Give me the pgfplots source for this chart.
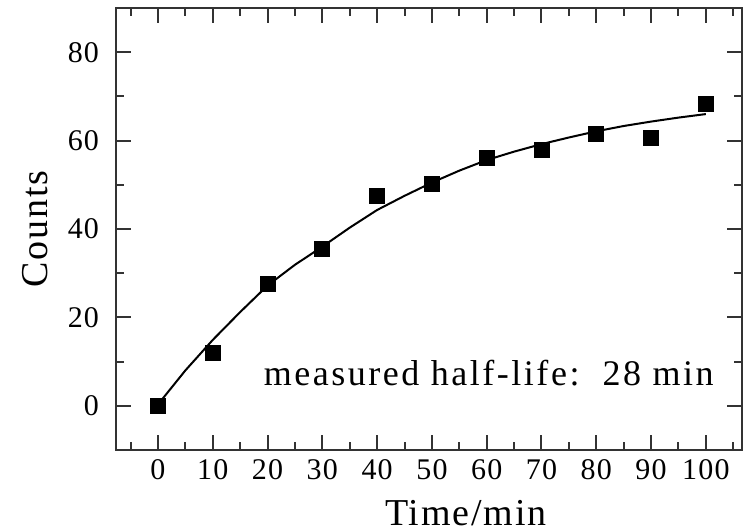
\documentclass[border=0pt]{standalone}
\usepackage{pgfplots}
\pgfplotsset{compat=1.18}
\usepackage{fontspec}
\setmainfont{Liberation Serif}

\begin{document}
\begin{tikzpicture}
\begin{axis}[
  scale only axis,
  width=313bp, height=221bp,
  xmin=-7.66, xmax=106.6,
  ymin=-10, ymax=90,
  axis line style={line width=1bp, black!80},
  xtick={0,10,...,100},
  ytick={0,20,...,80},
  minor xtick={-5,5,15,...,105},
  minor ytick={10,30,50,70},
  tick align=inside,
  major tick length=7.5bp,
  minor tick length=4bp,
  every tick/.style={line width=1bp, black!80},
  xtick pos=both, ytick pos=both,
  xticklabel pos=lower, yticklabel pos=left,
  /pgf/number format/assume math mode=true,
  tick label style={font=\fontsize{15bp}{17bp}\selectfont\addfontfeatures{LetterSpace=4}, black},
  xticklabel style={yshift=-1.5bp},
  yticklabel style={xshift=-5bp},
  every axis x label/.style={at={(rel axis cs:0.559,0)}, anchor=base, yshift=-37.5bp},
  every axis y label/.style={at={(rel axis cs:0,0.5)}, anchor=center, rotate=90, yshift=40.5bp},
  xlabel={Time/min},
  ylabel={Counts},
  label style={font=\fontsize{19bp}{21bp}\selectfont\addfontfeatures{LetterSpace=5}, black},
  clip=false,
]
% least-squares growth curve
\addplot[line width=1bp, black] coordinates {
  (0,0.3) (5,8.0) (10,14.9) (15,21.2) (20,27.2) (25,31.9) (30,36.0)
  (35,40.3) (40,44.3) (45,47.5) (50,50.5) (55,53.2) (60,55.6) (65,57.5)
  (70,59.2) (75,60.7) (80,62.1) (85,63.3) (90,64.3) (95,65.2) (100,66.0)
};
% measured counts
\addplot[only marks, mark=square*, mark size=3.75bp, black] coordinates {
  (0,0) (10,11.9) (20,27.6) (30,35.5) (40,47.4) (50,50.3)
  (60,56.1) (70,57.9) (80,61.6) (90,60.5) (100,68.3)
};
\node[anchor=base east, font=\fontsize{18bp}{20bp}\selectfont\addfontfeatures{LetterSpace=7}, black]
  at (axis cs:102.7,4.7) {measured half-life:\ \ 28 min};
\coordinate (sw) at (rel axis cs:0,0);
\coordinate (ne) at (rel axis cs:1,1);
\end{axis}
\pgfresetboundingbox
\path ([shift={(-58bp,-41bp)}]sw) rectangle ([shift={(1.5bp,4bp)}]ne);
\end{tikzpicture}
\end{document}
